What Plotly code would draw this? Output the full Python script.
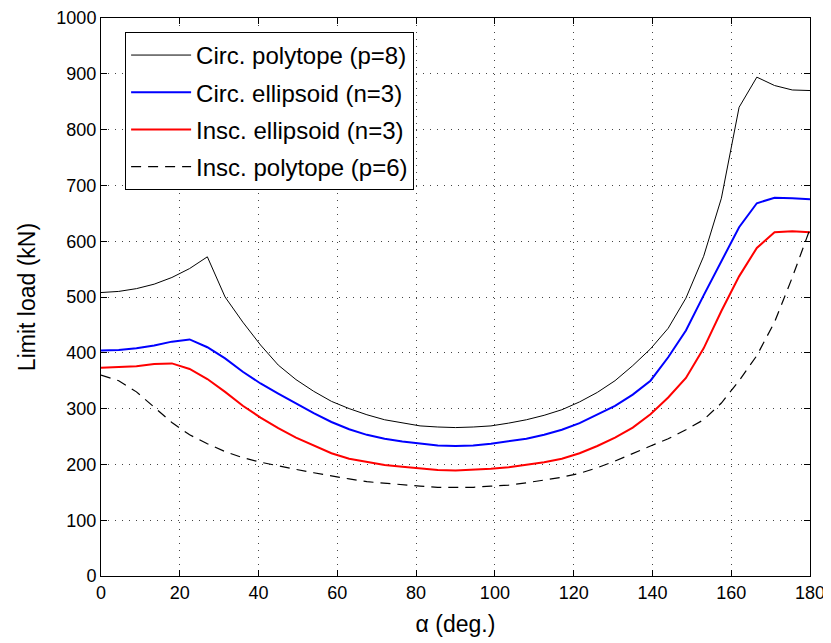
import plotly.graph_objects as go

# angle samples (deg)
alpha = [0, 4.5, 9, 13.5, 18, 22.5, 27, 31.5, 36, 40.5, 45, 49.5, 54, 58.5, 63, 67.5,
         72, 76.5, 81, 85.5, 90, 94.5, 99, 103.5, 108, 112.5, 117, 121.5, 126, 130.5,
         135, 139.5, 144, 148.5, 153, 157.5, 162, 166.5, 171, 175.5, 180]

circ_polytope = [508, 510, 515, 523, 535, 551, 572, 500, 455, 414, 378, 352, 331, 313, 300,
                 289, 280, 274, 269, 267, 266, 267, 269, 274, 280, 288, 298, 312, 329, 350,
                 377, 407, 444, 498, 573, 677, 840, 894, 879, 871, 870]

circ_ellipsoid = [404, 405, 408, 413, 420, 424, 410, 390, 366, 345, 327, 309, 292, 276, 263,
                  253, 246, 241, 237, 234, 233, 234, 237, 241, 246, 253, 262, 274, 289, 305,
                  325, 350, 392, 440, 503, 565, 625, 668, 678, 677, 675]

insc_ellipsoid = [373, 374, 376, 380, 381, 371, 353, 330, 305, 284, 265, 248, 234, 220, 210,
                  204, 199, 196, 193, 190, 189, 190, 192, 195, 199, 204, 210, 220, 233, 248,
                  266, 290, 320, 355, 408, 475, 537, 588, 616, 618, 616]

insc_polytope = [360, 350, 330, 302, 275, 253, 237, 223, 212, 204, 197, 191, 185, 179, 174,
                 169, 166, 163, 161, 159, 159, 159, 161, 163, 167, 172, 177, 184, 194, 206,
                 220, 233, 246, 262, 280, 310, 350, 395, 455, 535, 622]

FONT = "Liberation Sans, Arial, sans-serif"

fig = go.Figure()
fig.add_trace(go.Scatter(x=alpha, y=circ_polytope, mode="lines", name="Circ. polytope (p=8)",
                         legendgroup="a", line=dict(color="black", width=1)))
fig.add_trace(go.Scatter(x=alpha, y=circ_ellipsoid, mode="lines", name="Circ. ellipsoid (n=3)",
                         legendgroup="b", line=dict(color="#0000ff", width=2)))
fig.add_trace(go.Scatter(x=alpha, y=insc_ellipsoid, mode="lines", name="Insc. ellipsoid (n=3)",
                         legendgroup="c", line=dict(color="#ff0000", width=2)))
fig.add_trace(go.Scatter(x=alpha, y=insc_polytope, mode="lines", name="Insc. polytope (p=6)",
                         legendgroup="d", line=dict(color="black", width=1.2, dash="10px,7px")))

axis_common = dict(
    showline=True, linecolor="black", linewidth=1, mirror="allticks",
    ticks="inside", ticklen=6, tickcolor="black",
    showgrid=True, gridcolor="#444", gridwidth=1, griddash="1px,6px",
    zeroline=False, automargin=False,
    tickfont=dict(size=18, color="black", family=FONT),
)

# page body has an 8px margin, so the figure is a bit smaller than the window
fig.update_layout(
    width=823, height=635,
    paper_bgcolor="white", plot_bgcolor="white",
    margin=dict(l=93, r=21, t=10, b=67),
    font=dict(family=FONT, color="black"),
    xaxis=dict(range=[0, 180], tickvals=list(range(0, 181, 20)),
               title=dict(text="α (deg.)", font=dict(size=23), standoff=14), **axis_common),
    yaxis=dict(range=[0, 1000], tickvals=list(range(0, 1001, 100)),
               title=dict(text="Limit load (kN)", font=dict(size=23), standoff=14), **axis_common),
    legend=dict(x=0.034, y=0.975, xanchor="left", yanchor="top",
                bgcolor="white", bordercolor="black", borderwidth=1,
                font=dict(size=24, color="black"), tracegroupgap=3, itemwidth=60),
    showlegend=True,
)

fig.write_html("out.html")
